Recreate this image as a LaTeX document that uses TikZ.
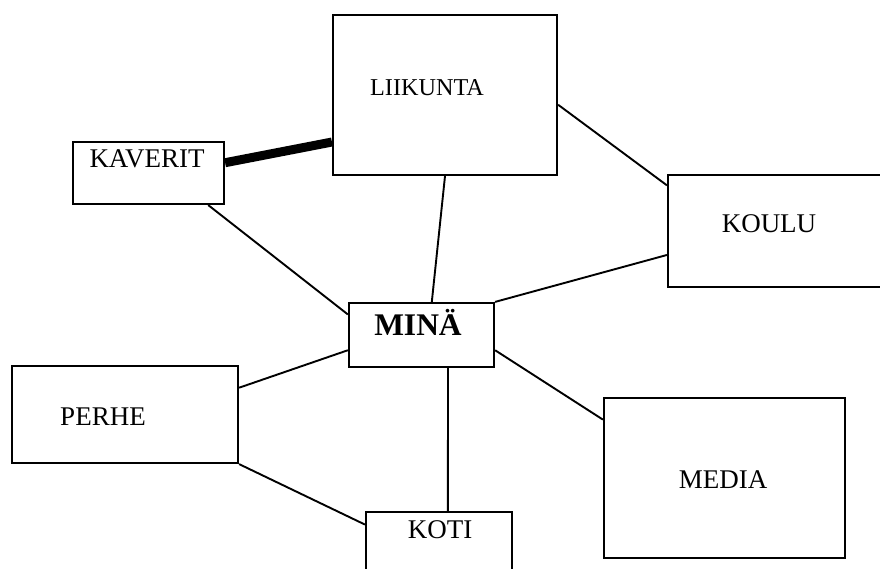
\documentclass[tikz,border=0pt]{standalone}
\usepackage{fontspec}
\setmainfont{Liberation Serif}
\usetikzlibrary{calc}
\tikzset{
  box/.style={draw=black, line width=2.2pt, fill=white, inner sep=0pt, rectangle},
  lbl/.style={anchor=base, inner sep=0pt, font=\fontsize{27}{31}\selectfont},
  conn/.style={draw=black, line width=1.9pt},
  thickconn/.style={draw=black, line width=9pt}
}
\begin{document}
\begin{tikzpicture}[x=1pt,y=-1pt]
\clip (0,0) rectangle (880,569);
\fill[white] (0,0) rectangle (880,569);
% boxes
\node[box, minimum width=224pt, minimum height=160pt] (liik) at (445,95) {};
\node[box, minimum width=151pt, minimum height=62pt] (kav) at (148.5,173) {};
\node[box, minimum width=217pt, minimum height=112pt] (koulu) at (776.5,231) {};
\node[box, minimum width=145pt, minimum height=64pt] (mina) at (421.5,335) {};
\node[box, minimum width=226pt, minimum height=97pt] (perhe) at (125,414.5) {};
\node[box, minimum width=241pt, minimum height=160pt] (media) at (724.5,478) {};
\node[box, minimum width=146pt, minimum height=66pt] (koti) at (439,545) {};
% labels
\node[lbl, font=\fontsize{24.2}{28}\selectfont] (tliik) at (427,96) {LIIKUNTA};
\node[lbl] (tkav) at (147,168) {KAVERIT};
\node[lbl] (tkoulu) at (769,233) {KOULU};
\node[lbl, font=\fontsize{31.5}{36}\selectfont\bfseries] (tmina) at (418,335) {MINÄ};
\node[lbl] (tperhe) at (103,425) {PERHE};
\node[lbl] (tmedia) at (723,488) {MEDIA};
\node[lbl] (tkoti) at (440,538) {KOTI};
% connectors
\draw[thickconn] ($(kav.north east)!0.34!(kav.south east)$) -- ($(liik.north west)!0.79!(liik.south west)$);
\draw[conn] ($(kav.south west)!0.89!(kav.south east)$) -- ($(mina.north west)!0.19!(mina.south west)$);
\draw[conn] ($(liik.south west)!0.5!(liik.south east)$) -- ($(mina.north west)!0.57!(mina.north east)$);
\draw[conn] ($(liik.north east)!0.56!(liik.south east)$) -- ($(koulu.north west)!0.1!(koulu.south west)$);
\draw[conn] ($(koulu.north west)!0.71!(koulu.south west)$) -- (mina.north east);
\draw[conn] ($(perhe.north east)!0.23!(perhe.south east)$) -- ($(mina.north west)!0.73!(mina.south west)$);
\draw[conn] ($(mina.north east)!0.73!(mina.south east)$) -- ($(media.north west)!0.14!(media.south west)$);
\draw[conn] ($(mina.south west)!0.68!(mina.south east)$) -- ($(koti.north west)!0.56!(koti.north east)$);
\draw[conn] (perhe.south east) -- ($(koti.north west)!0.2!(koti.south west)$);
\end{tikzpicture}
\end{document}
